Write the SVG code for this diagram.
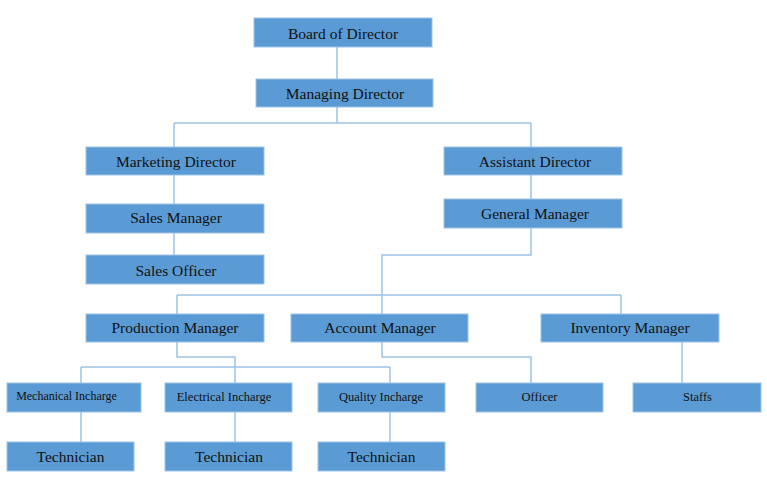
<svg xmlns="http://www.w3.org/2000/svg" width="767" height="483" viewBox="0 0 767 483">
<style>
.b{fill:#5B9BD5;stroke:#9DC3E6;stroke-width:1}
.t{font-family:"Liberation Serif","Times New Roman",serif;font-size:15.5px;fill:#111;text-anchor:middle}
.s{font-size:12.5px}
.m{font-size:12px}
.c{fill:none;stroke:#9DC3E6;stroke-width:1.5}
</style>
<rect width="767" height="483" fill="#fff"/>
<g id="connectors" class="c">
<path d="M337 47V79"/>
<path d="M337 107V123M174 123H531M174 123V147M531 123V147"/>
<path d="M174 175V204M174 233V255"/>
<path d="M531 175V199"/>
<path d="M531 228V255H382V314"/>
<path d="M177 295H621M177 295V314M621 295V314"/>
<path d="M177 342V357H235V383"/>
<path d="M81 367H390M81 367V383M390 367V383"/>
<path d="M382 342V357H531V383"/>
<path d="M682 342V383"/>
<path d="M81 412V442M235 412V442M390 412V442"/>
</g>
<g id="board"><rect class="b" x="254" y="18" width="178" height="29"/><text class="t" x="343" y="39">Board of Director</text></g>
<g id="managing"><rect class="b" x="256" y="79" width="177" height="28"/><text class="t" x="345" y="99">Managing Director</text></g>
<g id="marketing"><rect class="b" x="86" y="147" width="178" height="28"/><text class="t" x="176" y="167">Marketing Director</text></g>
<g id="assistant"><rect class="b" x="444" y="147" width="178" height="28"/><text class="t" x="535" y="167">Assistant Director</text></g>
<g id="salesmanager"><rect class="b" x="86" y="204" width="178" height="29"/><text class="t" x="176" y="223">Sales Manager</text></g>
<g id="salesofficer"><rect class="b" x="86" y="255" width="178" height="29"/><text class="t" x="176" y="276">Sales Officer</text></g>
<g id="general"><rect class="b" x="444" y="199" width="178" height="29"/><text class="t" x="535" y="219">General Manager</text></g>
<g id="production"><rect class="b" x="86" y="314" width="178" height="28"/><text class="t" x="175" y="333">Production Manager</text></g>
<g id="account"><rect class="b" x="291" y="314" width="177" height="28"/><text class="t" x="380" y="333">Account Manager</text></g>
<g id="inventory"><rect class="b" x="541" y="314" width="178" height="28"/><text class="t" x="630" y="333">Inventory Manager</text></g>
<g id="mechanical"><rect class="b" x="7" y="383" width="134" height="29"/><text class="t m" x="66.5" y="400">Mechanical Incharge</text></g>
<g id="electrical"><rect class="b" x="165" y="383" width="127" height="29"/><text class="t s" x="224" y="401">Electrical Incharge</text></g>
<g id="quality"><rect class="b" x="318" y="383" width="127" height="29"/><text class="t s" x="381" y="401">Quality Incharge</text></g>
<g id="officer"><rect class="b" x="476" y="383" width="127" height="29"/><text class="t s" x="539.5" y="401">Officer</text></g>
<g id="staffs"><rect class="b" x="633" y="383" width="128" height="29"/><text class="t s" x="697.5" y="401">Staffs</text></g>
<g id="tech1"><rect class="b" x="7" y="442" width="127" height="29"/><text class="t" x="70.5" y="462">Technician</text></g>
<g id="tech2"><rect class="b" x="165" y="442" width="127" height="29"/><text class="t" x="229" y="462">Technician</text></g>
<g id="tech3"><rect class="b" x="318" y="442" width="127" height="29"/><text class="t" x="381.5" y="462">Technician</text></g>
</svg>
